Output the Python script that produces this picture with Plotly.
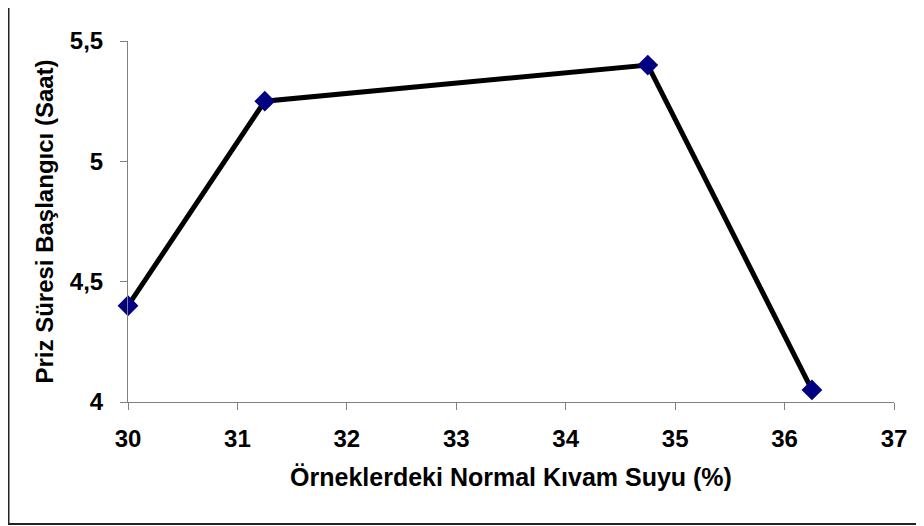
import plotly.graph_objects as go

# Data
normal_kivam_suyu = [30, 31.25, 34.75, 36.25]
priz_baslangici = [4.4, 5.25, 5.4, 4.05]
x_tick_vals = [30, 31, 32, 33, 34, 35, 36, 37]
y_tick_vals = [4, 4.5, 5, 5.5]

# page body has an 8px default margin, so the figure is 8px smaller
W, H = 916, 518
ml, mr, mt, mb = 120, 30, 33, 124

fig = go.Figure()
fig.add_trace(go.Scatter(
    x=normal_kivam_suyu, y=priz_baslangici,
    mode="lines+markers",
    line=dict(color="black", width=5),
    marker=dict(symbol="diamond", size=16, color="#000080",
                line=dict(width=0)),
    showlegend=False,
    cliponaxis=False,
))

font_family = "Liberation Sans, Arial, sans-serif"

fig.update_layout(
    width=W, height=H,
    margin=dict(l=ml, r=mr, t=mt, b=mb, pad=0),
    paper_bgcolor="white", plot_bgcolor="white",
    separators=",.",
    font=dict(family=font_family, color="black"),
    xaxis=dict(
        range=[30, 37], tickvals=x_tick_vals,
        showgrid=False, zeroline=False,
        showline=True, linecolor="#808080", linewidth=1,
        ticks="outside", ticklen=7, tickcolor="#808080", tickwidth=1,
        tickfont=dict(size=24, family=font_family, color="black", weight="bold"),
        ticklabelstandoff=8,
        title=dict(text="<b>Örneklerdeki Normal Kıvam Suyu (%)</b>",
                   font=dict(size=25, family=font_family, color="black"),
                   standoff=17),
    ),
    yaxis=dict(
        range=[4, 5.5], tickvals=y_tick_vals,
        showgrid=False, zeroline=False,
        showline=True, linecolor="#808080", linewidth=1,
        ticks="outside", ticklen=7, tickcolor="#808080", tickwidth=1,
        tickfont=dict(size=24, family=font_family, color="black", weight="bold"),
        ticklabelstandoff=12,
        title=dict(text="<b>Priz Süresi Başlangıcı (Saat)</b>",
                   font=dict(size=24, family=font_family, color="black"),
                   standoff=9),
    ),
)

# outer chart border (top and right fall outside the image)
px_w = W - ml - mr
px_h = H - mt - mb
fig.add_shape(type="rect", xref="paper", yref="paper",
              x0=(0.5 - ml) / px_w, x1=(W + 20 - ml) / px_w,
              y0=-(516 - (H - mb)) / px_h, y1=1 + (mt + 20) / px_h,
              line=dict(color="#222222", width=2), layer="below")

fig.write_html("out.html")
